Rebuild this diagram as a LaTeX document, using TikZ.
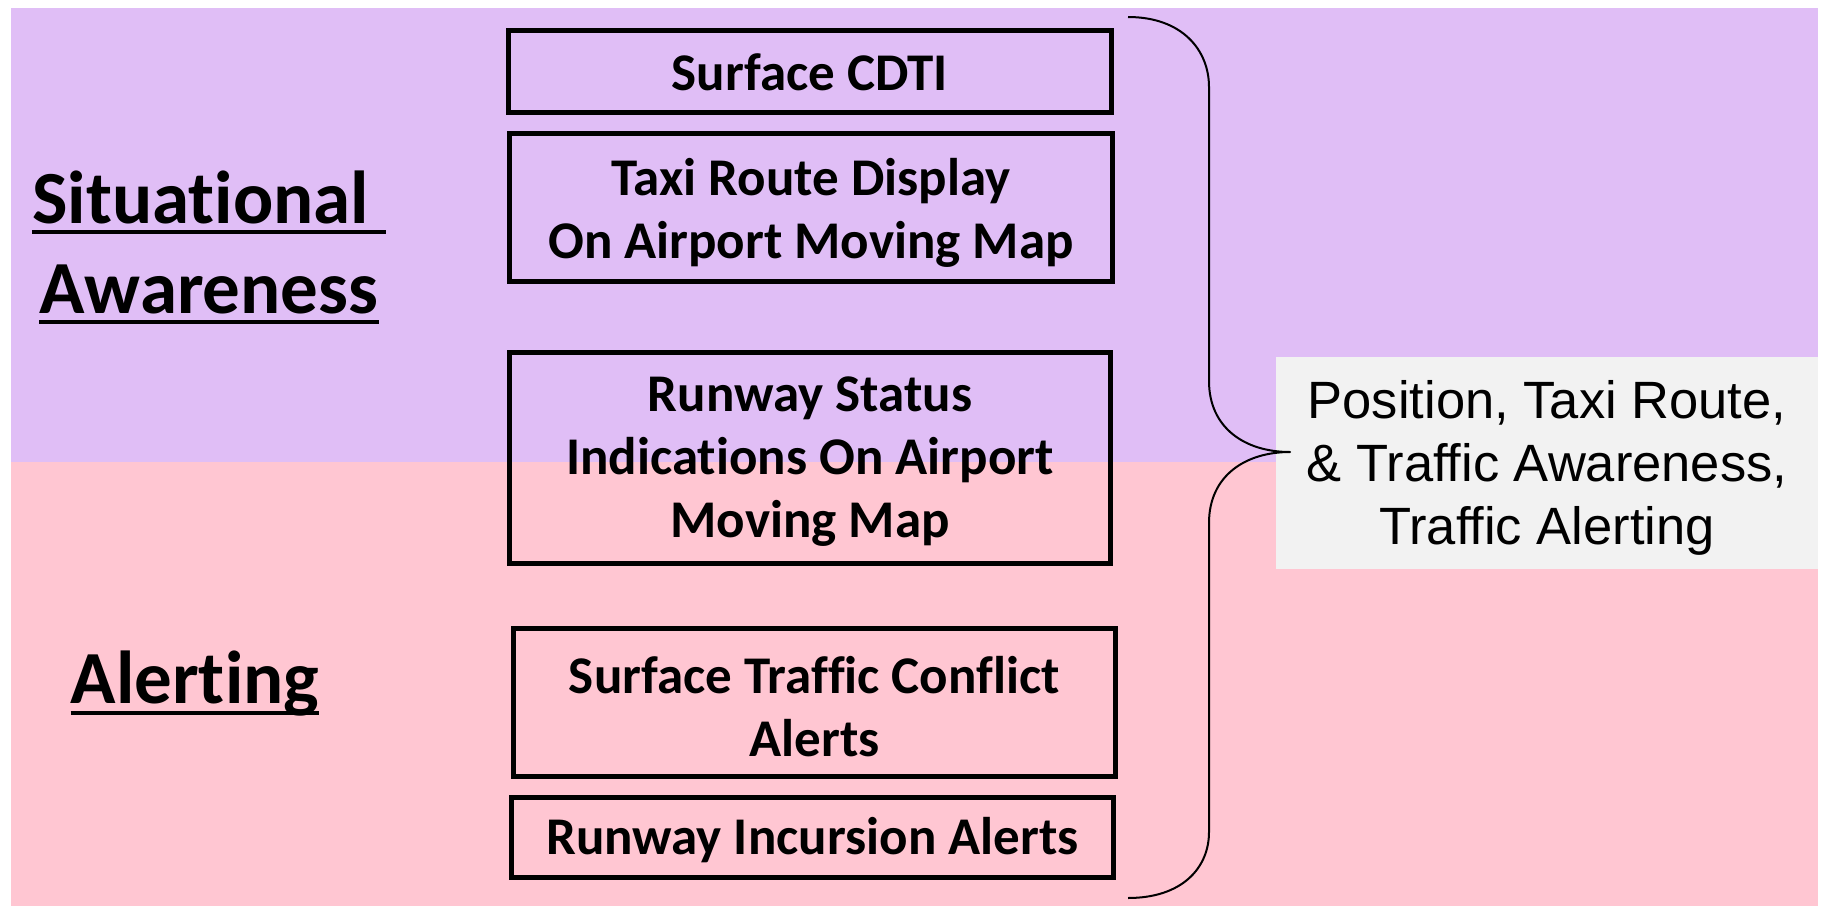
\documentclass[tikz,border=0pt]{standalone}
\usepackage{fontspec}
\setmainfont{Carlito}[Ligatures={NoCommon}]
\newfontfamily\arialf{Liberation Sans}
\definecolor{purp}{RGB}{224,190,246}
\definecolor{pinkc}{RGB}{255,198,210}
\definecolor{greyc}{RGB}{242,242,242}
\tikzset{
  itemframe/.style={draw=black, line width=5bp, inner sep=0pt},
  itemtext/.style={align=center, inner sep=0pt,
    font=\bfseries\fontsize{53bp}{63bp}\selectfont},
  sidelab/.style={inner sep=0pt, anchor=base, font=\bfseries\fontsize{75bp}{90bp}\selectfont},
  ulline/.style={line width=3.5bp},
  summary/.style={fill=greyc, inner sep=0pt,
    minimum width=542bp, minimum height=212bp},
  sumtext/.style={inner sep=0pt, align=center,
    font=\arialf\fontsize{52.5bp}{63bp}\selectfont},
  brace/.style={line width=2bp, line join=round}
}
\begin{document}
\begin{tikzpicture}[x=1bp,y=-1bp]
\useasboundingbox (0,0) rectangle (1822,906);
\fill[white] (0,0) rectangle (1822,906);
\fill[purp] (11,8) rectangle (1818,462);
\fill[pinkc] (11,462) rectangle (1818,906);

\node[summary] (sum) at (1547,463) {};
\node[sumtext] (sumt) at ([yshift=-5bp]sum.center) {Position, Taxi Route,\\\& Traffic Awareness,\\Traffic Alerting};

\node[itemframe, minimum width=603bp, minimum height=82bp] (b1) at (810,71.5) {};
\node[itemframe, minimum width=603bp, minimum height=148bp] (b2) at (811,207.5) {};
\node[itemframe, minimum width=601bp, minimum height=211bp] (b3) at (810,458) {};
\node[itemframe, minimum width=602bp, minimum height=148bp] (b4) at (814.5,702.5) {};
\node[itemframe, minimum width=602bp, minimum height=80bp] (b5) at (812.5,837.5) {};

\node[itemtext] (t1) at ([yshift=-1bp]b1.center) {Surface CDTI};
\node[itemtext] (t2) at ([yshift=-5bp]b2.center) {Taxi Route Display\\On Airport Moving Map};
\node[itemtext] (t3) at ([yshift=-4bp]b3.center) {Runway Status\\Indications On Airport\\Moving Map};
\node[itemtext] (t4) at ([yshift=-4bp]b4.center) {Surface Traffic Conflict\\Alerts};
\node[itemtext] (t5) at ([yshift=-3bp]b5.center) {Runway Incursion Alerts};

\node[sidelab] (sit) at (209,223) {\hbox{Situational\ }};
\node[sidelab] (awa) at (209,313) {Awareness};
\node[sidelab] (ale) at (195,703) {Alerting};
\draw[ulline] ([yshift=-9bp]sit.base west) -- ([yshift=-9bp]sit.base east);
\draw[ulline] ([yshift=-9bp]awa.base west) -- ([yshift=-9bp]awa.base east);
\draw[ulline] ([yshift=-10bp]ale.base west) -- ([yshift=-10bp]ale.base east);

\coordinate (btop) at (1128,17);
\coordinate (bbot) at (1128,898);
\coordinate (btip) at (1290,452);
\draw[brace] (btop) .. controls (1182,17) and (1209,50) .. (1209,87)
  -- (1209,381) .. controls (1209,428) and (1245,452) .. (btip)
  .. controls (1245,452) and (1209,476) .. (1209,523)
  -- (1209,832) .. controls (1209,868) and (1182,898) .. (bbot);
\end{tikzpicture}
\end{document}
